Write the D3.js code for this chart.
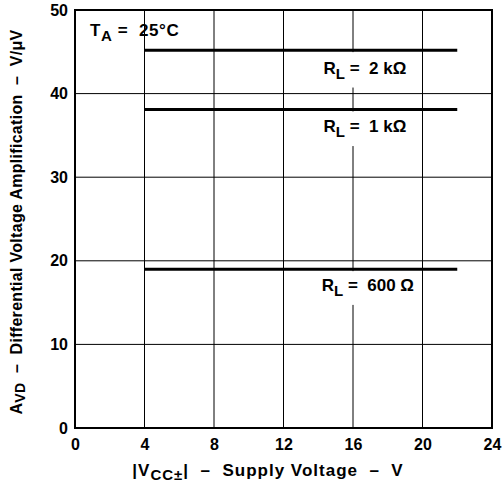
<!DOCTYPE html>
<html><head><meta charset="utf-8">
<script src="https://cdn.jsdelivr.net/npm/d3@7"></script>
<style>body{margin:0;background:#fff}svg{display:block}text{font-family:"Liberation Sans",Arial,sans-serif;font-weight:bold;fill:#000;white-space:pre}</style>
</head><body>
<script>
const xTicks = [0, 4, 8, 12, 16, 20, 24];
const yTicks = [0, 10, 20, 30, 40, 50];
const seriesNames = ["2 kΩ", "1 kΩ", "600 Ω"];
const seriesX = [[4, 22], [4, 22], [4, 22]];
const seriesY = [[45.2, 45.2], [38.1, 38.1], [19.0, 19.0]];
const labelPos = [[14.3, 42.4], [14.3, 35.4], [14.2, 16.4]];

const W = 502, H = 488;
const m = {l: 75, r: 10, t: 10, b: 60};
const svg = d3.select("body").append("svg").attr("width", W).attr("height", H);
const x = d3.scaleLinear().domain([0, 24]).range([m.l, W - m.r]);
const y = d3.scaleLinear().domain([0, 50]).range([H - m.b, m.t]);

// grid
svg.append("g").selectAll("line").data(xTicks.slice(1, -1)).join("line")
  .attr("x1", d => x(d)).attr("x2", d => x(d)).attr("y1", y(50)).attr("y2", y(0))
  .attr("stroke", "#000").attr("stroke-width", 1);
svg.append("g").selectAll("line").data(yTicks.slice(1, -1)).join("line")
  .attr("y1", d => y(d)).attr("y2", d => y(d)).attr("x1", x(0)).attr("x2", x(24))
  .attr("stroke", "#000").attr("stroke-width", 1);

// labels with white background
const lg = svg.append("g");
seriesNames.forEach((n, i) => {
  const t = lg.append("text").attr("x", x(labelPos[i][0])).attr("y", y(labelPos[i][1]))
    .attr("font-size", 17);
  t.append("tspan").text("R");
  t.append("tspan").attr("dy", 5).attr("font-size", 15).text("L");
  t.append("tspan").attr("dy", -5).text(" =  " + n);
  const bb = t.node().getBBox();
  const top = y(seriesY[i][0]) + 2;
  lg.insert("rect", "text").attr("x", bb.x - 4).attr("y", top).attr("width", bb.width + 8)
    .attr("height", y(labelPos[i][1]) + 14 - top).attr("fill", "#fff");
});

// series lines
const line = d3.line().x(d => x(d[0])).y(d => y(d[1]));
svg.append("g").selectAll("path").data(seriesX.map((xs, i) => xs.map((v, j) => [v, seriesY[i][j]]))).join("path")
  .attr("d", line).attr("fill", "none").attr("stroke", "#000").attr("stroke-width", 3);

// frame
svg.append("rect").attr("x", x(0)).attr("y", y(50)).attr("width", x(24) - x(0)).attr("height", y(0) - y(50))
  .attr("fill", "none").attr("stroke", "#000").attr("stroke-width", 2);

// axes
const xa = svg.append("g").attr("transform", `translate(0,${y(0)})`)
  .call(d3.axisBottom(x).tickValues(xTicks).tickSize(0).tickPadding(11));
xa.select(".domain").remove();
xa.selectAll("text").attr("font-size", 16).style("font-family", '"Liberation Sans",Arial,sans-serif').style("font-weight", "bold");
const ya = svg.append("g").attr("transform", `translate(${x(0)},0)`)
  .call(d3.axisLeft(y).tickValues(yTicks).tickSize(0).tickPadding(7));
ya.select(".domain").remove();
ya.selectAll("text").attr("font-size", 16).style("font-family", '"Liberation Sans",Arial,sans-serif').style("font-weight", "bold");

// T_A annotation
const ta = svg.append("text").attr("x", 90).attr("y", 36).attr("font-size", 17).attr("letter-spacing", 0.6);
ta.append("tspan").text("T");
ta.append("tspan").attr("dy", 5).attr("font-size", 15).text("A");
ta.append("tspan").attr("dy", -5).text(" =  25°C");

// x title
const xt = svg.append("text").attr("x", 268).attr("y", 476).attr("text-anchor", "middle").attr("font-size", 17).attr("letter-spacing", 1);
xt.append("tspan").text("|V");
xt.append("tspan").attr("dy", 4).attr("font-size", 15).text("CC±");
xt.append("tspan").attr("dy", -4).text("|  –  Supply Voltage  –  V");

// y title
const yt = svg.append("text").attr("transform", `translate(22,222) rotate(-90)`)
  .attr("text-anchor", "middle").attr("font-size", 16).attr("letter-spacing", 0.3);
yt.append("tspan").text("A");
yt.append("tspan").attr("dy", 3).attr("font-size", 14).text("VD");
yt.append("tspan").attr("dy", -3).text("  –  Differential Voltage Amplification  –  V/μV");
</script>
</body></html>
